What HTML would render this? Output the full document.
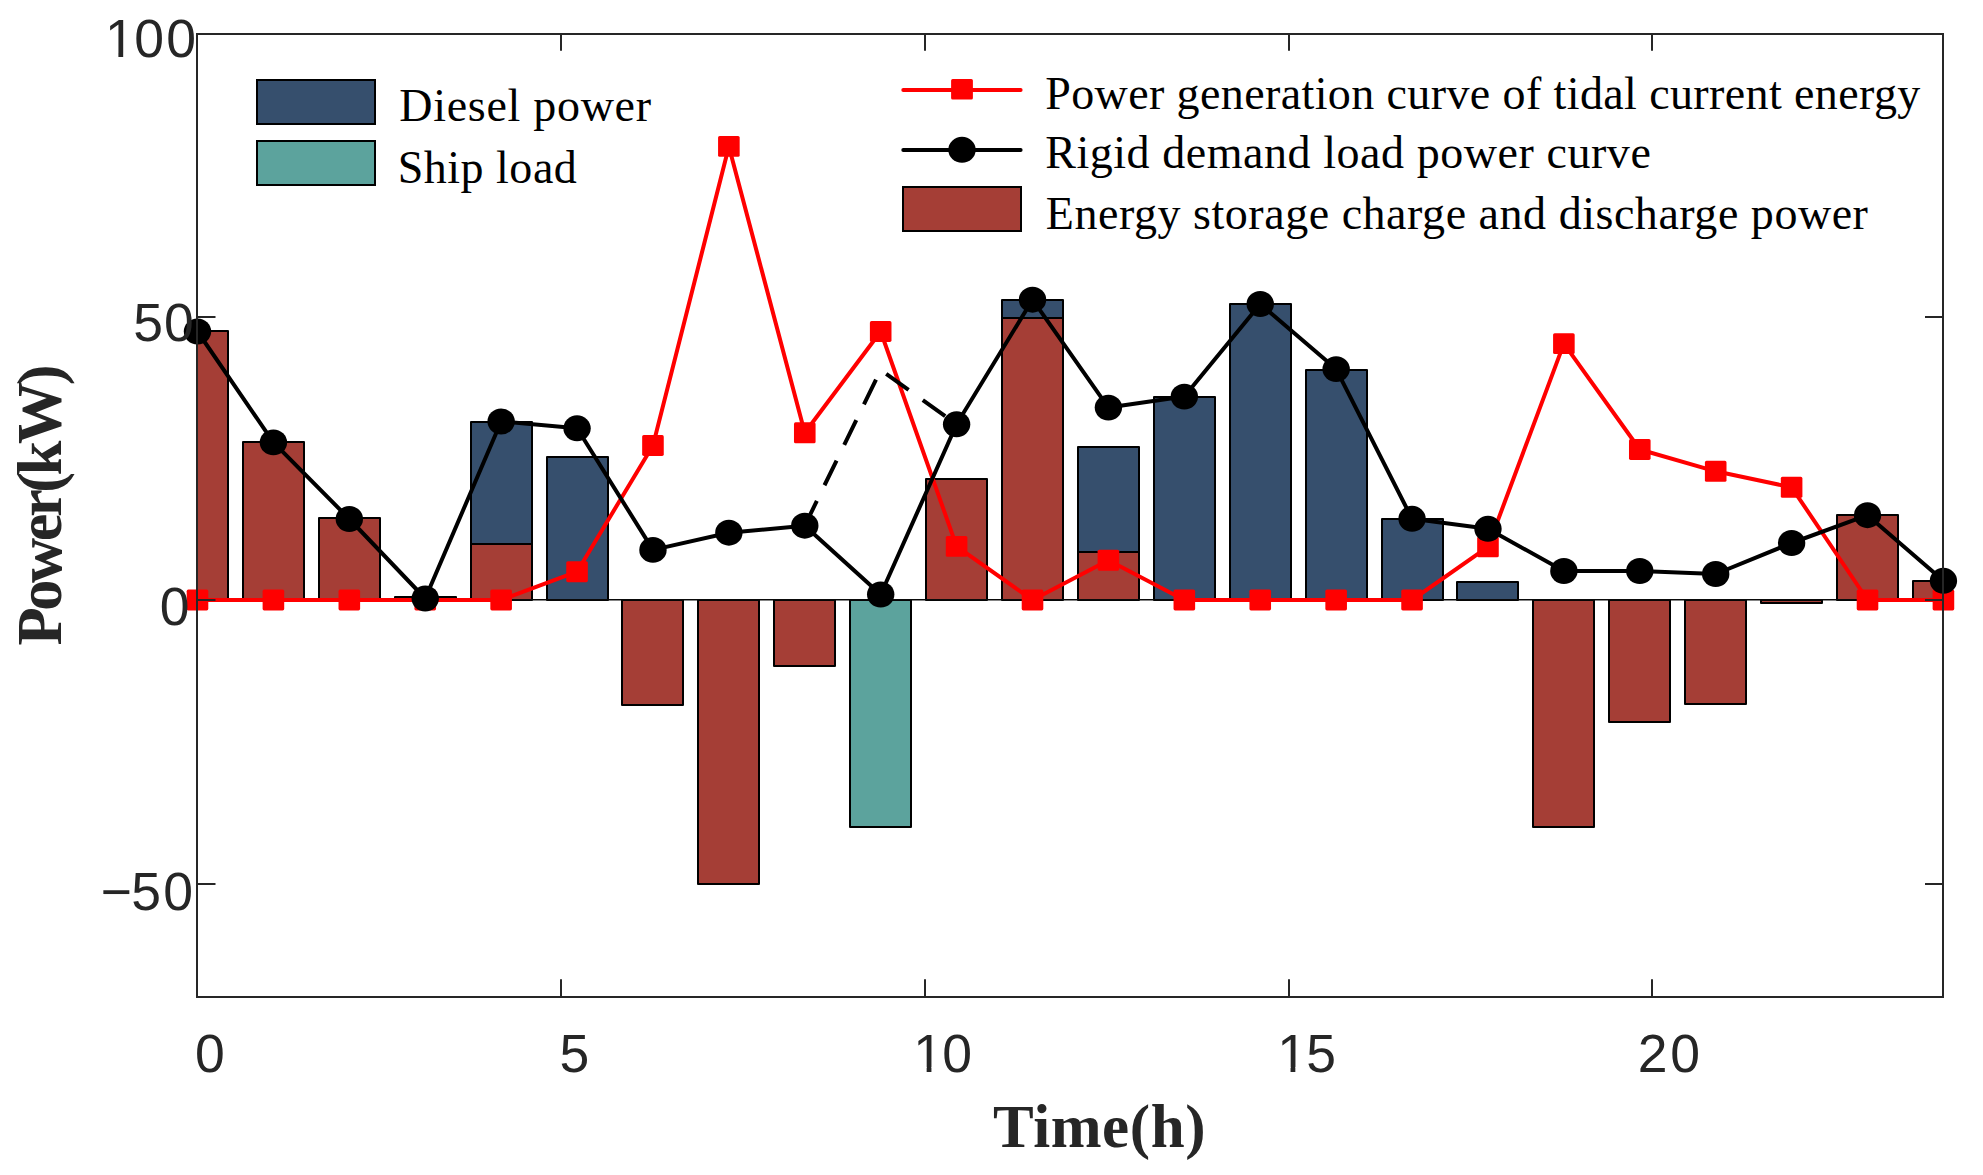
<!DOCTYPE html>
<html><head><meta charset="utf-8"><title>Power chart</title>
<style>html,body{margin:0;padding:0;background:#fff;width:1983px;height:1175px;overflow:hidden}svg{display:block}</style>
</head><body>
<svg width="1983" height="1175" viewBox="0 0 1983 1175">
<defs><clipPath id="fx2"><path clip-rule="evenodd" d="M0,0H1983V1175H0ZM916.03,1067.35H926.65V1073.20H916.03ZM931.43,1067.35H941.73V1073.20H931.43Z"/></clipPath><clipPath id="fx3"><path clip-rule="evenodd" d="M0,0H1983V1175H0ZM1279.93,1067.35H1290.55V1073.20H1279.93ZM1295.33,1067.35H1305.63V1073.20H1295.33Z"/></clipPath><clipPath id="fy0"><path clip-rule="evenodd" d="M0,0H1983V1175H0ZM107.78,53.05H118.40V58.90H107.78ZM123.18,53.05H133.48V58.90H123.18Z"/></clipPath><clipPath id="pc"><rect x="197.0" y="34.0" width="1746.0" height="963.0"/></clipPath></defs>
<rect width="1983" height="1175" fill="#fff"/>
<g clip-path="url(#pc)">
<rect x="167.00" y="331.00" width="61.00" height="269.00" fill="#a53e36" stroke="#000" stroke-width="2.0" stroke-linejoin="round"/><rect x="243.00" y="442.00" width="61.00" height="158.00" fill="#a53e36" stroke="#000" stroke-width="2.0" stroke-linejoin="round"/><rect x="319.00" y="518.00" width="61.00" height="82.00" fill="#a53e36" stroke="#000" stroke-width="2.0" stroke-linejoin="round"/><rect x="395.00" y="597.00" width="61.00" height="3.00" fill="#a53e36" stroke="#000" stroke-width="2.0" stroke-linejoin="round"/><rect x="471.00" y="544.00" width="61.00" height="56.00" fill="#a53e36" stroke="#000" stroke-width="2.0" stroke-linejoin="round"/><rect x="471.00" y="422.00" width="61.00" height="122.00" fill="#364f6d" stroke="#000" stroke-width="2.0" stroke-linejoin="round"/><rect x="547.00" y="600.00" width="61.00" height="0.00" fill="#a53e36" stroke="#000" stroke-width="2.0" stroke-linejoin="round"/><rect x="547.00" y="457.00" width="61.00" height="143.00" fill="#364f6d" stroke="#000" stroke-width="2.0" stroke-linejoin="round"/><rect x="622.00" y="600.00" width="61.00" height="105.00" fill="#a53e36" stroke="#000" stroke-width="2.0" stroke-linejoin="round"/><rect x="698.00" y="600.00" width="61.00" height="284.00" fill="#a53e36" stroke="#000" stroke-width="2.0" stroke-linejoin="round"/><rect x="774.00" y="600.00" width="61.00" height="66.00" fill="#a53e36" stroke="#000" stroke-width="2.0" stroke-linejoin="round"/><rect x="850.00" y="600.00" width="61.00" height="0.00" fill="#a53e36" stroke="#000" stroke-width="2.0" stroke-linejoin="round"/><rect x="850.00" y="600.00" width="61.00" height="227.00" fill="#5ca39d" stroke="#000" stroke-width="2.0" stroke-linejoin="round"/><rect x="926.00" y="479.00" width="61.00" height="121.00" fill="#a53e36" stroke="#000" stroke-width="2.0" stroke-linejoin="round"/><rect x="1002.00" y="318.00" width="61.00" height="282.00" fill="#a53e36" stroke="#000" stroke-width="2.0" stroke-linejoin="round"/><rect x="1002.00" y="300.00" width="61.00" height="18.00" fill="#364f6d" stroke="#000" stroke-width="2.0" stroke-linejoin="round"/><rect x="1078.00" y="552.00" width="61.00" height="48.00" fill="#a53e36" stroke="#000" stroke-width="2.0" stroke-linejoin="round"/><rect x="1078.00" y="447.00" width="61.00" height="105.00" fill="#364f6d" stroke="#000" stroke-width="2.0" stroke-linejoin="round"/><rect x="1154.00" y="600.00" width="61.00" height="0.00" fill="#a53e36" stroke="#000" stroke-width="2.0" stroke-linejoin="round"/><rect x="1154.00" y="397.00" width="61.00" height="203.00" fill="#364f6d" stroke="#000" stroke-width="2.0" stroke-linejoin="round"/><rect x="1230.00" y="600.00" width="61.00" height="0.00" fill="#a53e36" stroke="#000" stroke-width="2.0" stroke-linejoin="round"/><rect x="1230.00" y="304.00" width="61.00" height="296.00" fill="#364f6d" stroke="#000" stroke-width="2.0" stroke-linejoin="round"/><rect x="1306.00" y="600.00" width="61.00" height="0.00" fill="#a53e36" stroke="#000" stroke-width="2.0" stroke-linejoin="round"/><rect x="1306.00" y="370.00" width="61.00" height="230.00" fill="#364f6d" stroke="#000" stroke-width="2.0" stroke-linejoin="round"/><rect x="1382.00" y="600.00" width="61.00" height="0.00" fill="#a53e36" stroke="#000" stroke-width="2.0" stroke-linejoin="round"/><rect x="1382.00" y="519.00" width="61.00" height="81.00" fill="#364f6d" stroke="#000" stroke-width="2.0" stroke-linejoin="round"/><rect x="1457.00" y="600.00" width="61.00" height="0.00" fill="#a53e36" stroke="#000" stroke-width="2.0" stroke-linejoin="round"/><rect x="1457.00" y="582.00" width="61.00" height="18.00" fill="#364f6d" stroke="#000" stroke-width="2.0" stroke-linejoin="round"/><rect x="1533.00" y="600.00" width="61.00" height="227.00" fill="#a53e36" stroke="#000" stroke-width="2.0" stroke-linejoin="round"/><rect x="1609.00" y="600.00" width="61.00" height="122.00" fill="#a53e36" stroke="#000" stroke-width="2.0" stroke-linejoin="round"/><rect x="1685.00" y="600.00" width="61.00" height="104.00" fill="#a53e36" stroke="#000" stroke-width="2.0" stroke-linejoin="round"/><rect x="1761.00" y="600.00" width="61.00" height="3.00" fill="#a53e36" stroke="#000" stroke-width="2.0" stroke-linejoin="round"/><rect x="1837.00" y="515.00" width="61.00" height="85.00" fill="#a53e36" stroke="#000" stroke-width="2.0" stroke-linejoin="round"/><rect x="1913.00" y="581.00" width="61.00" height="19.00" fill="#a53e36" stroke="#000" stroke-width="2.0" stroke-linejoin="round"/>
<line x1="197.0" y1="599.75" x2="1943.0" y2="599.75" stroke="#0a0a0a" stroke-width="1.5"/>
</g>
<polyline points="197.50,600.00 273.41,600.00 349.32,600.00 425.23,600.00 501.14,600.00 577.05,571.70 652.96,445.50 728.87,146.40 804.78,432.80 880.69,331.50 956.60,546.40 1032.51,600.00 1108.42,560.20 1184.33,600.00 1260.24,600.00 1336.15,600.00 1412.06,600.00 1487.97,546.90 1563.88,343.60 1639.79,449.50 1715.70,471.30 1791.61,487.30 1867.52,600.00 1943.43,600.00" fill="none" stroke="#ff0000" stroke-width="4" stroke-linejoin="round"/>
<rect x="186.70" y="589.55" width="21.6" height="20.9" rx="1.6" fill="#ff0000"/><rect x="262.61" y="589.55" width="21.6" height="20.9" rx="1.6" fill="#ff0000"/><rect x="338.52" y="589.55" width="21.6" height="20.9" rx="1.6" fill="#ff0000"/><rect x="414.43" y="589.55" width="21.6" height="20.9" rx="1.6" fill="#ff0000"/><rect x="490.34" y="589.55" width="21.6" height="20.9" rx="1.6" fill="#ff0000"/><rect x="566.25" y="561.25" width="21.6" height="20.9" rx="1.6" fill="#ff0000"/><rect x="642.16" y="435.05" width="21.6" height="20.9" rx="1.6" fill="#ff0000"/><rect x="718.07" y="135.95" width="21.6" height="20.9" rx="1.6" fill="#ff0000"/><rect x="793.98" y="422.35" width="21.6" height="20.9" rx="1.6" fill="#ff0000"/><rect x="869.89" y="321.05" width="21.6" height="20.9" rx="1.6" fill="#ff0000"/><rect x="945.80" y="535.95" width="21.6" height="20.9" rx="1.6" fill="#ff0000"/><rect x="1021.71" y="589.55" width="21.6" height="20.9" rx="1.6" fill="#ff0000"/><rect x="1097.62" y="549.75" width="21.6" height="20.9" rx="1.6" fill="#ff0000"/><rect x="1173.53" y="589.55" width="21.6" height="20.9" rx="1.6" fill="#ff0000"/><rect x="1249.44" y="589.55" width="21.6" height="20.9" rx="1.6" fill="#ff0000"/><rect x="1325.35" y="589.55" width="21.6" height="20.9" rx="1.6" fill="#ff0000"/><rect x="1401.26" y="589.55" width="21.6" height="20.9" rx="1.6" fill="#ff0000"/><rect x="1477.17" y="536.45" width="21.6" height="20.9" rx="1.6" fill="#ff0000"/><rect x="1553.08" y="333.15" width="21.6" height="20.9" rx="1.6" fill="#ff0000"/><rect x="1628.99" y="439.05" width="21.6" height="20.9" rx="1.6" fill="#ff0000"/><rect x="1704.90" y="460.85" width="21.6" height="20.9" rx="1.6" fill="#ff0000"/><rect x="1780.81" y="476.85" width="21.6" height="20.9" rx="1.6" fill="#ff0000"/><rect x="1856.72" y="589.55" width="21.6" height="20.9" rx="1.6" fill="#ff0000"/><rect x="1932.63" y="589.55" width="21.6" height="20.9" rx="1.6" fill="#ff0000"/>
<polyline points="197.50,331.50 273.41,442.40 349.32,519.00 425.23,598.50 501.14,421.50 577.05,428.30 652.96,549.90 728.87,532.70 804.78,525.70 880.69,594.50 956.60,424.30 1032.51,299.70 1108.42,407.60 1184.33,396.60 1260.24,304.00 1336.15,369.10 1412.06,518.80 1487.97,528.80 1563.88,571.00 1639.79,571.00 1715.70,574.00 1791.61,543.00 1867.52,515.20 1943.43,580.80" fill="none" stroke="#000" stroke-width="4" stroke-linejoin="round"/>
<ellipse cx="197.50" cy="331.50" rx="13.7" ry="12.95" fill="#000"/><ellipse cx="273.41" cy="442.40" rx="13.7" ry="12.95" fill="#000"/><ellipse cx="349.32" cy="519.00" rx="13.7" ry="12.95" fill="#000"/><ellipse cx="425.23" cy="598.50" rx="13.7" ry="12.95" fill="#000"/><ellipse cx="501.14" cy="421.50" rx="13.7" ry="12.95" fill="#000"/><ellipse cx="577.05" cy="428.30" rx="13.7" ry="12.95" fill="#000"/><ellipse cx="652.96" cy="549.90" rx="13.7" ry="12.95" fill="#000"/><ellipse cx="728.87" cy="532.70" rx="13.7" ry="12.95" fill="#000"/><ellipse cx="804.78" cy="525.70" rx="13.7" ry="12.95" fill="#000"/><ellipse cx="880.69" cy="594.50" rx="13.7" ry="12.95" fill="#000"/><ellipse cx="956.60" cy="424.30" rx="13.7" ry="12.95" fill="#000"/><ellipse cx="1032.51" cy="299.70" rx="13.7" ry="12.95" fill="#000"/><ellipse cx="1108.42" cy="407.60" rx="13.7" ry="12.95" fill="#000"/><ellipse cx="1184.33" cy="396.60" rx="13.7" ry="12.95" fill="#000"/><ellipse cx="1260.24" cy="304.00" rx="13.7" ry="12.95" fill="#000"/><ellipse cx="1336.15" cy="369.10" rx="13.7" ry="12.95" fill="#000"/><ellipse cx="1412.06" cy="518.80" rx="13.7" ry="12.95" fill="#000"/><ellipse cx="1487.97" cy="528.80" rx="13.7" ry="12.95" fill="#000"/><ellipse cx="1563.88" cy="571.00" rx="13.7" ry="12.95" fill="#000"/><ellipse cx="1639.79" cy="571.00" rx="13.7" ry="12.95" fill="#000"/><ellipse cx="1715.70" cy="574.00" rx="13.7" ry="12.95" fill="#000"/><ellipse cx="1791.61" cy="543.00" rx="13.7" ry="12.95" fill="#000"/><ellipse cx="1867.52" cy="515.20" rx="13.7" ry="12.95" fill="#000"/><ellipse cx="1943.43" cy="580.80" rx="13.7" ry="12.95" fill="#000"/>
<polyline points="804.78,525.70 880.69,370 956.60,424.30" fill="none" stroke="#000" stroke-width="4" stroke-dasharray="27.5 17.5" stroke-linejoin="round"/>
<rect x="197.0" y="34.0" width="1746.0" height="963.0" fill="none" stroke="#262626" stroke-width="2"/>
<path d="M197.00,997.00V979.20M197.00,34.00V50.80M561.00,997.00V979.20M561.00,34.00V50.80M925.00,997.00V979.20M925.00,34.00V50.80M1289.00,997.00V979.20M1289.00,34.00V50.80M1652.00,997.00V979.20M1652.00,34.00V50.80M197.00,884.00H215.50M1943.00,884.00H1925.00M197.00,600.00H215.50M1943.00,600.00H1925.00M197.00,317.00H215.50M1943.00,317.00H1925.00M197.00,34.00H215.50M1943.00,34.00H1925.00" stroke="#262626" stroke-width="2" fill="none"/>
<text x="195.12" y="1071.7" style="font-family:'Liberation Sans',Arial,sans-serif;font-size:53.5px;fill:#262626">0</text><text x="559.38" y="1071.7" style="font-family:'Liberation Sans',Arial,sans-serif;font-size:53.5px;fill:#262626">5</text><text x="913.23 942.22" y="1071.7" style="font-family:'Liberation Sans',Arial,sans-serif;font-size:53.5px;fill:#262626" clip-path="url(#fx2)">10</text><text x="1277.13 1306.33" y="1071.7" style="font-family:'Liberation Sans',Arial,sans-serif;font-size:53.5px;fill:#262626" clip-path="url(#fx3)">15</text><text x="1637.82 1670.27" y="1071.7" style="font-family:'Liberation Sans',Arial,sans-serif;font-size:53.5px;fill:#262626">20</text>
<text x="104.98 134.17 166.17" y="57.4" style="font-family:'Liberation Sans',Arial,sans-serif;font-size:53.5px;fill:#262626" clip-path="url(#fy0)">100</text><text x="133.28 163.97" y="340.8" style="font-family:'Liberation Sans',Arial,sans-serif;font-size:53.5px;fill:#262626">50</text><text x="159.87" y="624.6" style="font-family:'Liberation Sans',Arial,sans-serif;font-size:53.5px;fill:#262626">0</text><text x="100.47 131.18 163.22" y="909.9" style="font-family:'Liberation Sans',Arial,sans-serif;font-size:53.5px;fill:#262626">−50</text>
<text x="399.35" y="120.90" style="font-family:'Liberation Serif','Times New Roman',serif;font-size:46.0px;fill:#000" textLength="251.65" lengthAdjust="spacing">Diesel power</text><text x="397.70" y="182.50" style="font-family:'Liberation Serif','Times New Roman',serif;font-size:46.0px;fill:#000" textLength="179.10" lengthAdjust="spacing">Ship load</text><text x="1045.15" y="109.00" style="font-family:'Liberation Serif','Times New Roman',serif;font-size:46.0px;fill:#000" textLength="875.20" lengthAdjust="spacing">Power generation curve of tidal current energy</text><text x="1045.15" y="168.30" style="font-family:'Liberation Serif','Times New Roman',serif;font-size:46.0px;fill:#000" textLength="605.65" lengthAdjust="spacing">Rigid demand load power curve</text><text x="1045.85" y="229.00" style="font-family:'Liberation Serif','Times New Roman',serif;font-size:46.0px;fill:#000" textLength="822.10" lengthAdjust="spacing">Energy storage charge and discharge power</text>
<rect x="257" y="80" width="118" height="44" fill="#364f6d" stroke="#000" stroke-width="2.0"/>
<rect x="257" y="141" width="118" height="44" fill="#5ca39d" stroke="#000" stroke-width="2.0"/>
<line x1="903.3" y1="90" x2="1020.6" y2="90" stroke="#ff0000" stroke-width="4" stroke-linecap="round"/>
<rect x="951.1" y="79.1" width="21.8" height="20.5" rx="1.5" fill="#ff0000"/>
<line x1="903.3" y1="150" x2="1020.6" y2="150" stroke="#000" stroke-width="4" stroke-linecap="round"/>
<ellipse cx="962" cy="149.8" rx="13.75" ry="12.95" fill="#000"/>
<rect x="903" y="187" width="118" height="44" fill="#a53e36" stroke="#000" stroke-width="2.0"/>


<text x="993" y="1147" style="font-family:'Liberation Serif','Times New Roman',serif;font-weight:bold;font-size:61px;fill:#262626" textLength="212.5" lengthAdjust="spacing">Time(h)</text>
<text transform="translate(61.2,645.4) rotate(-90)" x="0" y="0" style="font-family:'Liberation Serif','Times New Roman',serif;font-weight:bold;font-size:62.5px;fill:#262626" textLength="281" lengthAdjust="spacing">Power(kW)</text>

</svg>
</body></html>
